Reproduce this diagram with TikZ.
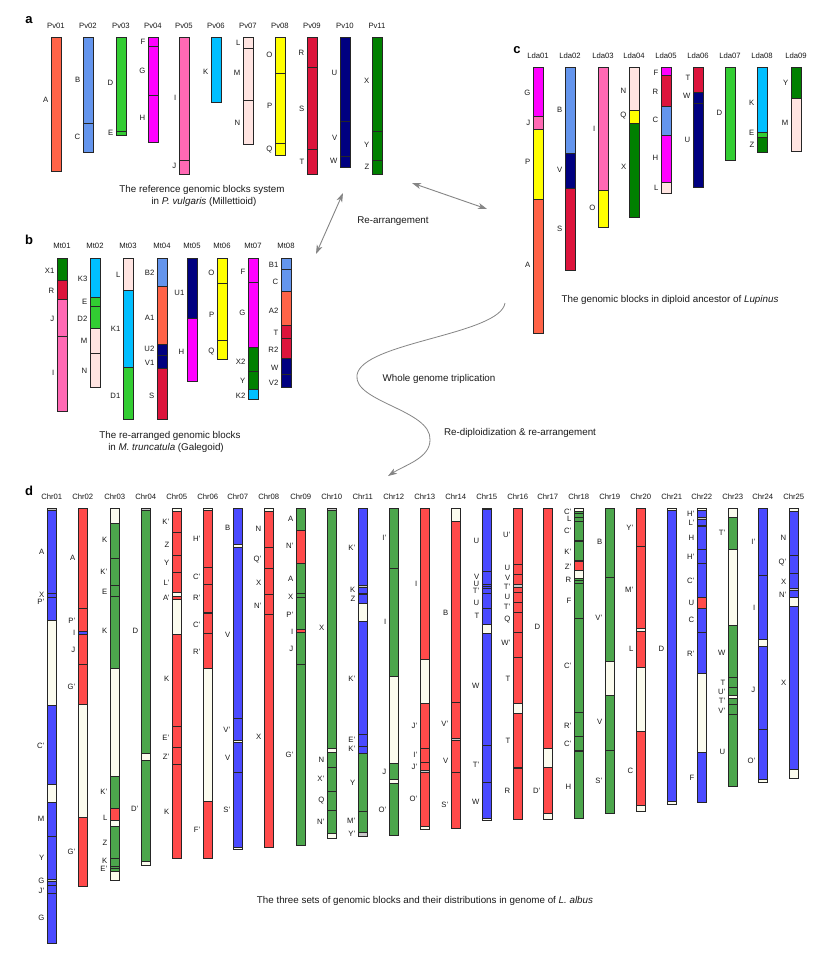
\documentclass[tikz,border=0pt]{standalone}
\usepackage{fontspec}
\setmainfont{Liberation Sans}
\usetikzlibrary{arrows.meta}
\definecolor{tomatoC}{HTML}{FF6347}
\definecolor{cornf}{HTML}{6495ED}
\definecolor{limeg}{HTML}{32CD32}
\definecolor{magC}{HTML}{FF00FF}
\definecolor{hotp}{HTML}{FF69B4}
\definecolor{dsky}{HTML}{00BFFF}
\definecolor{misty}{HTML}{FFE4E1}
\definecolor{yelC}{HTML}{FFFF00}
\definecolor{crim}{HTML}{DC143C}
\definecolor{navyC}{HTML}{000080}
\definecolor{dgreen}{HTML}{008000}
\definecolor{dB}{HTML}{4A4AFF}
\definecolor{dR}{HTML}{FF4A4A}
\definecolor{dG}{HTML}{4CA64C}
\definecolor{dW}{HTML}{FBFBEE}
\definecolor{dS}{HTML}{C8C8C8}
\definecolor{txt}{HTML}{1A1A1A}
\definecolor{arr}{HTML}{858585}
\tikzset{
  seg/.style={draw=black!85,line width=0.7pt},
  ttl/.style={font=\fontsize{7.7}{8}\selectfont,text=txt,inner sep=0pt},
  lab/.style={font=\fontsize{7.7}{8}\selectfont,text=txt,inner sep=0pt,anchor=east},
  capt/.style={font=\fontsize{9.8}{11}\selectfont,text=txt,inner sep=0pt},
  panel/.style={font=\fontsize{13}{14}\bfseries\selectfont,inner sep=0pt},
  garrow/.style={draw=arr,line width=0.9pt,{Stealth[length=9pt,width=6pt,inset=2.5pt]}-{Stealth[length=9pt,width=6pt,inset=2.5pt]}},
  sarrow/.style={draw=arr,line width=0.8pt,-{Stealth[length=9pt,width=6pt,inset=2.5pt]}}
}
\newcommand\chrom[6]{%
  \node[ttl] (#1) at (#2+#4/2,#3) {#1};
  \foreach \ya/\yb/\segc in {#5} {\draw[seg,fill=\segc] (#2,\ya) rectangle (#2+#4,\yb);}
  \foreach \yy/\lb in {#6} {\node[lab] (#1-\yy) at (#2-2.5,\yy) {\lb};}
}
\begin{document}
\begin{tikzpicture}[x=1pt,y=-1pt]
\useasboundingbox[fill=white] (0,0) rectangle (827,959);
% ---------------- panel a
\node[panel] (pa) at (29,20) {a};
\chrom{Pv01}{51}{26}{10}{37/171/tomatoC}{100/A}
\chrom{Pv02}{83}{26}{10}{37/123/cornf,123/152/cornf}{80/B,137/C}
\chrom{Pv03}{116}{26}{10}{37/131/limeg,131/135/limeg}{83/D,133/E}
\chrom{Pv04}{148}{26}{10}{37/46/magC,46/95/magC,95/142/magC}{42/F,71/G,118/H}
\chrom{Pv05}{179}{26}{10}{37/160/hotp,160/174/hotp}{98/I,166/J}
\chrom{Pv06}{211}{26}{10}{37/102/dsky}{72/K}
\chrom{Pv07}{243}{26}{10}{37/48/misty,48/100/misty,100/144/misty}{43/L,73/M,123/N}
\chrom{Pv08}{275}{26}{10}{37/73/yelC,73/143/yelC,143/155/yelC}{55/O,106/P,150/Q}
\chrom{Pv09}{307}{26}{10}{37/67/crim,67/149/crim,149/174/crim}{53/R,109/S,162/T}
\chrom{Pv10}{340}{26}{10}{37/121/navyC,121/156/navyC,156/167/navyC}{73/U,138/V,161/W}
\chrom{Pv11}{372}{26}{10}{37/131/dgreen,131/160/dgreen,160/174/dgreen}{81/X,145/Y,167/Z}
\node[capt] (capa1) at (202,190) {The reference genomic blocks system};
\node[capt] (capa2) at (204,202) {in \textit{P. vulgaris} (Millettioid)};
% ---------------- panel c
\node[panel] (pc) at (517,50) {c};
\chrom{Lda01}{533}{56}{10}{67/116/magC,116/129/hotp,129/199/yelC,199/333/tomatoC}{93/G,123/J,162/P,265/A}
\chrom{Lda02}{565}{56}{10}{67/153/cornf,153/188/navyC,188/270/crim}{110/B,170/V,229/S}
\chrom{Lda03}{598}{56}{10}{67/190/hotp,190/227/yelC}{129/I,208/O}
\chrom{Lda04}{629}{56}{10}{67/110/misty,110/123/yelC,123/217/dgreen}{91/N,116/Q,167/X}
\chrom{Lda05}{661}{56}{10}{67/75/magC,75/106/crim,106/135/cornf,135/182/magC,182/193/misty}{73/F,92/R,120/C,158/H,188/L}
\chrom{Lda06}{693}{56}{10}{67/92/crim,92/103/navyC,103/187/navyC}{78/T,96/W,140/U}
\chrom{Lda07}{725}{56}{10}{67/160/limeg}{113/D}
\chrom{Lda08}{757}{56}{10}{67/132/dsky,132/137/limeg,137/152/dgreen}{103/K,133/E,145/Z}
\chrom{Lda09}{791}{56}{10}{67/98/dgreen,98/151/misty}{83/Y,123/M}
\node[capt] (capc) at (670,300) {The genomic blocks in diploid ancestor of \textit{Lupinus}};
% ---------------- panel b
\node[panel] (pb) at (29,240) {b};
\chrom{Mt01}{57}{246}{10}{258/280/dgreen,280/299/crim,299/336/hotp,336/411/hotp}{271/X1,291/R,319/J,373/I}
\chrom{Mt02}{90}{246}{10}{258/297/dsky,297/306/limeg,306/328/limeg,328/353/misty,353/387/misty}{279/K3,302/E,319/D2,341/M,371/N}
\chrom{Mt03}{123}{246}{10}{258/290/misty,290/367/dsky,367/419/limeg}{275/L,329/K1,396/D1}
\chrom{Mt04}{157}{246}{10}{258/286/cornf,286/344/tomatoC,344/355/navyC,355/368/navyC,368/419/crim}{273/B2,318/A1,349/U2,363/V1,396/S}
\chrom{Mt05}{187}{246}{10}{258/318/navyC,318/381/magC}{293/U1,352/H}
\chrom{Mt06}{217}{246}{10}{258/283/yelC,283/340/yelC,340/359/yelC}{273/O,315/P,352/Q}
\chrom{Mt07}{248}{246}{10}{258/282/magC,282/347/magC,347/371/dgreen,371/389/dgreen,389/399/dsky}{272/F,313/G,362/X2,381/Y,396/K2}
\chrom{Mt08}{281}{246}{10}{258/269/cornf,269/291/cornf,291/325/tomatoC,325/338/crim,338/358/crim,358/374/navyC,374/387/navyC}{265/B1,282/C,311/A2,333/T,350/R2,368/W,383/V2}
\node[capt] (capb1) at (170,436) {The re-arranged genomic blocks};
\node[capt] (capb2) at (166,448) {in \textit{M. truncatula} (Galegoid)};
% ---------------- arrows
\coordinate (ab1) at (343,193);
\coordinate (ab2) at (316,254);
\coordinate (ac1) at (412,183);
\coordinate (ac2) at (487,209);
\draw[garrow] (ab1) -- (ab2);
\draw[garrow] (ac1) -- (ac2);
\node[capt] (rearr) at (393,221) {Re-arrangement};
\coordinate (cs) at (505,303);
\coordinate (cm1) at (357,375);
\coordinate (cm2) at (430,440);
\coordinate (ce) at (388,476);
\draw[sarrow] (cs) .. controls (500,335) and (362,342) .. (cm1)
  .. controls (353,402) and (432,410) .. (cm2)
  .. controls (430,458) and (405,465) .. (ce);
\node[capt] (wgt) at (439,379) {Whole genome triplication};
\node[capt] (redip) at (520,433) {Re-diploidization \& re-arrangement};
% ---------------- panel d
\node[panel] (pd) at (29,491) {d};
\chrom{Chr01}{47}{497}{9.5}{508/510/dS,510/593/dB,593/597/dB,597/620/dB,620/705/dW,705/784/dB,784/802/dW,802/836/dB,836/879/dB,879/881/dS,881/885/dB,885/893/dB,893/943/dB}{552/A,595/X,602/P',746/C',819/M,858/Y,881/G,891/J',918/G}
\chrom{Chr02}{78}{497}{9.5}{508/608/dR,608/631/dR,631/634/dB,634/664/dR,664/704/dR,704/817/dW,817/886/dR}{558/A,621/P',633/I,650/J,687/G',852/G'}
\chrom{Chr03}{110}{497}{9.5}{508/523/dW,523/558/dG,558/585/dG,585/596/dG,596/668/dG,668/776/dW,776/808/dG,808/820/dR,820/826/dW,826/858/dG,858/866/dG,866/868/dG,868/871/dG,871/880/dW}{540/K,572/K',592/E,631/K,792/K',818/L,843/Z,861/K,869/E'}
\chrom{Chr04}{141}{497}{9.5}{508/510/dS,510/753/dG,753/760/dW,760/861/dG,861/865/dW}{631/D,809/D'}
\chrom{Chr05}{172}{497}{9.5}{508/511/dW,511/532/dR,532/555/dR,555/572/dR,572/592/dR,592/596/dW,596/599/dR,599/634/dW,634/726/dR,726/747/dR,747/764/dR,764/858/dR}{522/K',545/Z,563/Y,583/L',598/A',679/K,738/E',757/Z',812/K}
\chrom{Chr06}{203}{497}{9.5}{508/510/dW,510/567/dR,567/584/dR,584/612/dR,612/613/dS,613/633/dR,633/668/dR,668/801/dW,801/858/dR}{539/H',577/C',598/R',625/C',652/R',830/F'}
\chrom{Chr07}{233}{497}{9.5}{508/544/dB,544/547/dW,547/718/dB,718/740/dB,740/742/dW,742/772/dB,772/847/dB,847/849/dW}{528/B,635/V,730/V',758/V,810/S'}
\chrom{Chr08}{264}{497}{9.5}{508/511/dW,511/547/dR,547/568/dR,568/594/dR,594/614/dR,614/847/dR}{529/N,560/Q',583/X,606/N',737/X}
\chrom{Chr09}{296}{497}{9.5}{508/530/dG,530/563/dR,563/593/dG,593/597/dG,597/629/dG,629/632/dR,632/664/dG,664/845/dG}{519/A,546/N',579/A,597/X,615/P',632/I,649/J,755/G'}
\chrom{Chr10}{327}{497}{9.5}{508/510/dS,510/748/dG,748/752/dW,752/767/dG,767/791/dG,791/810/dG,810/833/dG,833/838/dW}{628/X,760/N,779/X',801/Q,822/N'}
\chrom{Chr11}{358}{497}{9.5}{508/585/dB,585/587/dS,587/593/dB,593/594/dS,594/603/dB,603/621/dW,621/734/dB,734/746/dB,746/753/dB,753/811/dG,811/832/dG,832/836/dS}{548/K',590/K,599/Z,679/K',740/E',749/K',783/Y,821/M',834/Y'}
\chrom{Chr12}{389}{497}{9.5}{508/568/dG,568/676/dG,676/763/dW,763/779/dG,779/783/dW,783/835/dG}{538/I',622/I,772/J,810/O'}
\chrom{Chr13}{420}{497}{9.5}{508/659/dR,659/703/dW,703/748/dR,748/762/dR,762/770/dR,770/772/dS,772/826/dR,826/829/dW}{584/I,726/J',755/I',767/J',799/O'}
\chrom{Chr14}{451}{497}{9.5}{508/521/dW,521/702/dR,702/738/dR,738/740/dS,740/772/dR,772/828/dR}{613/B,724/V',761/V,805/S'}
\chrom{Chr15}{482}{497}{9.5}{508/509/dS,509/571/dB,571/584/dB,584/586/dB,586/588/dB,588/593/dB,593/608/dB,608/624/dB,624/633/dW,633/745/dB,745/782/dB,782/818/dB,818/820/dW}{541/U,577/V,584/U,591/T',603/U,616/T,686/W,765/T',802/W}
\chrom{Chr16}{513}{497}{9.5}{508/564/dR,564/574/dR,574/584/dR,584/587/dS,587/592/dR,592/602/dR,602/612/dR,612/632/dR,632/657/dR,657/703/dR,703/713/dW,713/767/dR,767/768/dS,768/819/dR}{535/U',568/U,578/V,587/T',597/U,607/T',620/Q,643/W',679/T,741/T,791/R}
\chrom{Chr17}{543}{497}{9.5}{508/748/dR,748/767/dW,767/813/dR,813/819/dW}{627/D,791/D'}
\chrom{Chr18}{574}{497}{9.5}{508/511/dW,511/513/dG,513/517/dG,517/521/dG,521/540/dG,540/541/dS,541/560/dG,560/561/dS,561/570/dR,570/578/dW,578/580/dG,580/583/dG,583/618/dG,618/712/dG,712/736/dG,736/750/dG,750/751/dS,751/818/dG}{512/C',519/L,531/C',552/K',567/Z',580/R,601/F,666/C',726/R',744/C',787/H}
\chrom{Chr19}{605}{497}{9.5}{508/577/dG,577/661/dG,661/695/dW,695/750/dG,750/813/dG}{542/B,618/V',722/V,781/S'}
\chrom{Chr20}{636}{497}{9.5}{508/546/dR,546/628/dR,628/631/dW,631/667/dR,667/731/dW,731/805/dR,805/811/dW}{528/Y',590/M',649/L,771/C}
\chrom{Chr21}{667}{497}{9.5}{508/510/dW,510/801/dB,801/804/dW}{649/D}
\chrom{Chr22}{697}{497}{9.5}{508/510/dW,510/517/dB,517/519/dS,519/525/dB,525/526/dB,526/549/dB,549/563/dB,563/597/dB,597/608/dR,608/632/dB,632/673/dB,673/752/dW,752/802/dB}{514/H',523/L',538/H,557/H',581/C',603/U,620/C,654/R',778/F}
\chrom{Chr23}{728}{497}{9.5}{508/517/dW,517/549/dG,549/625/dW,625/677/dG,677/687/dG,687/695/dG,695/698/dW,698/704/dG,704/714/dG,714/786/dG}{533/T',653/W,683/T,692/U',701/T',711/V',752/U}
\chrom{Chr24}{758}{497}{9.5}{508/575/dB,575/639/dB,639/646/dW,646/729/dB,729/779/dB,779/782/dW}{542/I',608/I,690/J,761/O'}
\chrom{Chr25}{789}{497}{9.5}{508/511/dW,511/555/dB,555/573/dB,573/588/dB,588/590/dS,590/597/dB,597/606/dW,606/769/dB,769/778/dW}{538/N,563/Q',582/X,595/N',683/X}
\node[capt] (capd) at (425,901) {The three sets of genomic blocks and their distributions in genome of \textit{L. albus}};
\end{tikzpicture}
\end{document}
